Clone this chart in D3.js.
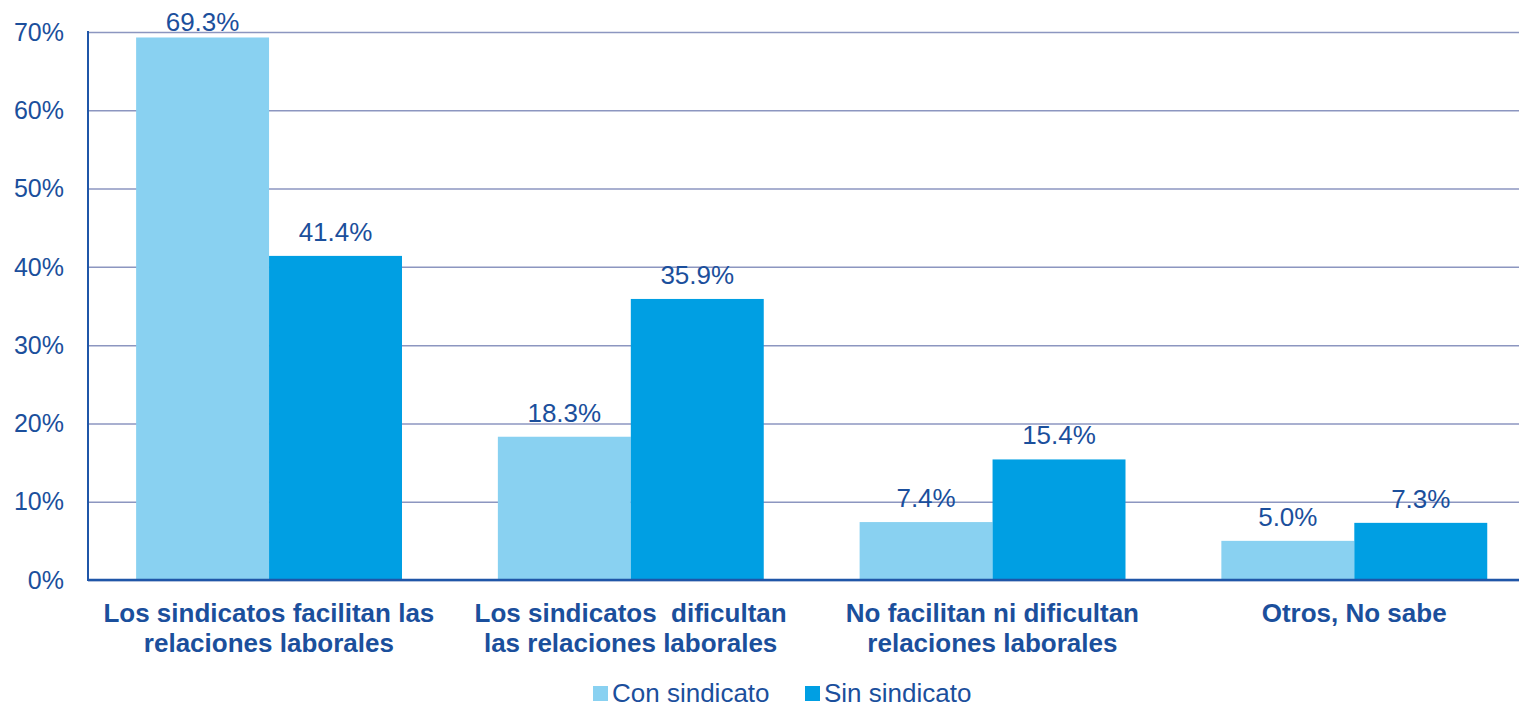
<!DOCTYPE html>
<html lang="en">
<head>
    <meta charset="UTF-8">
    <title>Sindicatos y relaciones laborales</title>
    <script src="https://d3js.org/d3.v7.min.js"></script>
    <style>
        body { margin: 0; background: #fff; }
        svg text { font-family: "Liberation Sans", Arial, sans-serif; fill: #1b4f9c; white-space: pre; }
        .gridlines line { stroke: #8c96c0; stroke-width: 1.5; }
        .gridlines .domain { stroke: none; }
    </style>
</head>
<body>
<script>
    // data
    const categories = [
        ["Los sindicatos facilitan las", "relaciones laborales"],
        ["Los sindicatos  dificultan", "las relaciones laborales"],
        ["No facilitan ni dificultan", "relaciones laborales"],
        ["Otros, No sabe"]
    ];
    const series = ["Con sindicato", "Sin sindicato"];
    const conSindicato = [69.3, 18.3, 7.4, 5.0];
    const sinSindicato = [41.4, 35.9, 15.4, 7.3];
    const yTicks = [0, 10, 20, 30, 40, 50, 60, 70];
    const colors = ["#89d1f1", "#009fe3"];

    const width = 1519, height = 708;
    const plot = { left: 88, right: 1535, top: 32, bottom: 580 };

    const svg = d3.select("body").append("svg")
        .attr("width", width)
        .attr("height", height);

    const rows = categories.map((c, i) => ({
        label: c,
        values: [conSindicato[i], sinSindicato[i]]
    }));

    const x0 = d3.scaleBand()
        .domain(d3.range(categories.length))
        .range([plot.left, plot.right]);

    const x1 = d3.scaleBand()
        .domain(series)
        .range([x0.bandwidth() * 0.133, x0.bandwidth() * 0.868]);

    const y = d3.scaleLinear()
        .domain([0, 70])
        .range([plot.bottom, plot.top]);

    // gridlines
    svg.append("g")
        .attr("class", "gridlines")
        .attr("transform", `translate(${plot.left},0)`)
        .call(d3.axisLeft(y).tickValues(yTicks).tickSize(-(plot.right - plot.left)).tickFormat(""));

    // y labels
    svg.append("g")
        .selectAll("text")
        .data(yTicks)
        .join("text")
        .attr("x", 64)
        .attr("y", d => y(d))
        .attr("dy", "0.35em")
        .attr("text-anchor", "end")
        .style("font-size", "25px")
        .text(d => d + "%");

    // bars
    const groups = svg.append("g")
        .selectAll("g")
        .data(rows)
        .join("g")
        .attr("transform", (d, i) => `translate(${x0(i)},0)`);

    groups.selectAll("rect")
        .data(d => d.values.map((v, j) => ({ key: series[j], v: v, j: j })))
        .join("rect")
        .attr("x", d => x1(d.key))
        .attr("width", x1.bandwidth())
        .attr("y", d => y(d.v))
        .attr("height", d => plot.bottom - y(d.v))
        .attr("fill", d => colors[d.j]);

    groups.selectAll("text.val")
        .data(d => d.values.map((v, j) => ({ key: series[j], v: v })))
        .join("text")
        .attr("class", "val")
        .attr("x", d => x1(d.key) + x1.bandwidth() / 2)
        .attr("y", d => Math.max(y(d.v) - 15, 31))
        .attr("text-anchor", "middle")
        .style("font-size", "26px")
        .text(d => d.v.toFixed(1) + "%");

    // axes lines
    svg.append("line")
        .attr("x1", plot.left).attr("x2", plot.left)
        .attr("y1", plot.top - 1).attr("y2", plot.bottom + 1)
        .attr("stroke", "#1f56a8").attr("stroke-width", 2);
    svg.append("line")
        .attr("x1", plot.left).attr("x2", plot.right)
        .attr("y1", plot.bottom).attr("y2", plot.bottom)
        .attr("stroke", "#1f56a8").attr("stroke-width", 2.5);

    // category labels
    groups.append("text")
        .attr("text-anchor", "middle")
        .style("font-size", "26px")
        .style("font-weight", "bold")
        .selectAll("tspan")
        .data(d => d.label)
        .join("tspan")
        .attr("x", x0.bandwidth() / 2)
        .attr("y", (d, i) => 622 + i * 30)
        .text(d => d);

    // legend
    const legendX = [593, 805];
    const legend = svg.append("g")
        .selectAll("g")
        .data(series)
        .join("g")
        .attr("transform", (d, i) => `translate(${legendX[i]},686)`);
    legend.append("rect")
        .attr("width", 15).attr("height", 15)
        .attr("fill", (d, i) => colors[i]);
    legend.append("text")
        .attr("x", 19)
        .attr("y", 7)
        .attr("dy", "0.35em")
        .style("font-size", "26px")
        .text(d => d);
</script>
</body>
</html>
